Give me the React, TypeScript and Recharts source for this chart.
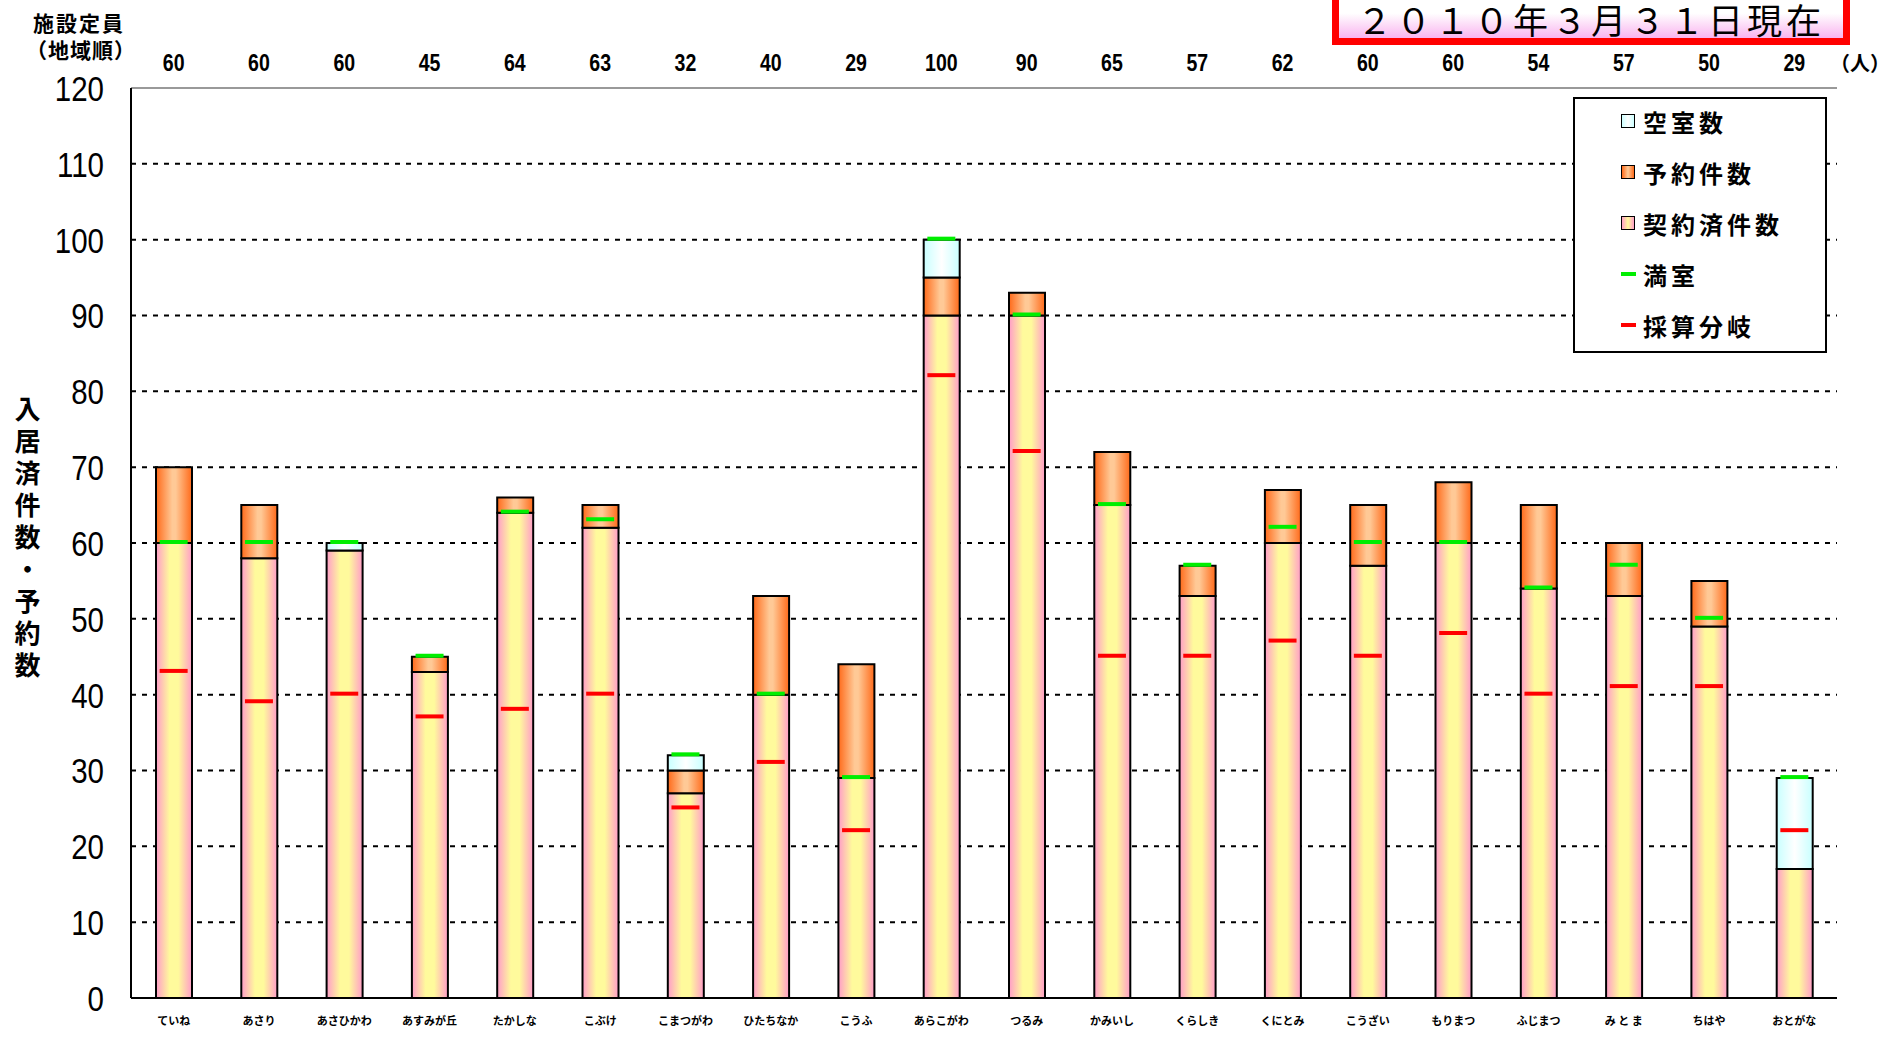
import React from "react"
import { ComposedChart, Bar, Line, XAxis, YAxis, CartesianGrid } from "recharts"

// 施設（地域順）
const facilities = [
  "ていね", "あさり", "あさひかわ", "あすみが丘", "たかしな", "こぶけ", "こまつがわ", "ひたちなか", "こうふ", "あらこがわ",
  "つるみ", "かみいし", "くらしき", "くにとみ", "こうざい", "もりまつ", "ふじまつ", "み と ま", "ちはや", "おとがな",
]
const capacity = [60, 60, 60, 45, 64, 63, 32, 40, 29, 100, 90, 65, 57, 62, 60, 60, 54, 57, 50, 29]
const contracted = [60, 58, 59, 43, 64, 62, 27, 40, 29, 90, 90, 65, 53, 60, 57, 60, 54, 53, 49, 17]
const reserved = [10, 7, 0, 2, 2, 3, 3, 13, 15, 5, 3, 7, 4, 7, 8, 8, 11, 7, 6, 0]
const vacant = [0, 0, 1, 0, 0, 0, 2, 0, 0, 5, 0, 0, 0, 0, 0, 0, 0, 0, 0, 12]
const fullRoom = [60, 60, 60, 45, 64, 63, 32, 40, 29, 100, 90, 65, 57, 62, 60, 60, 54, 57, 50, 29]
const breakEven = [43, 39, 40, 37, 38, 40, 25, 31, 22, 82, 72, 45, 45, 47, 45, 48, 40, 41, 41, 22]
const yTicks = [0, 10, 20, 30, 40, 50, 60, 70, 80, 90, 100, 110, 120]

const data = facilities.map((name, i) => ({
  name,
  contracted: contracted[i],
  reserved: reserved[i],
  vacant: vacant[i],
  full: fullRoom[i],
  breakEven: breakEven[i],
}))

const JP = "'Noto Sans CJK JP', 'Noto Sans', sans-serif"
const NUM = "'Liberation Sans', Arial, sans-serif"

const dash = (color: string) => (props: any) => {
  const { cx, cy, index } = props
  if (cx == null || cy == null) return <g key={`${color}-${index}`} />
  return <line key={`${color}-${index}`} x1={cx - 14} x2={cx + 14} y1={cy - 1} y2={cy - 1} stroke={color} strokeWidth={4} />
}

const YTick = ({ x, y, payload }: any) => (
  <text transform={`translate(${x},${y}) scale(0.82,1)`} dy="0.36em" textAnchor="end" fontSize={36} fontFamily={NUM} fill="#000">
    {payload.value}
  </text>
)

const BottomTick = ({ x, y, payload }: any) => (
  <text x={x} y={y} dy={19} textAnchor="middle" fontSize={11} fontWeight={700} fontFamily={JP} fill="#000">
    {payload.value}
  </text>
)

const TopTick = ({ x, y, index }: any) => (
  <text transform={`translate(${x},${y}) scale(0.85,1)`} dy={-9} textAnchor="middle" fontSize={23} fontWeight={700} fontFamily={NUM} fill="#000">
    {capacity[index]}
  </text>
)

const legendItems = [
  { label: "空室数", kind: "box", fill: "linear-gradient(to right, #ccffff, #ffffff, #ccffff)" },
  { label: "予約件数", kind: "box", fill: "linear-gradient(to right, #ff6a1a, #ffcc99, #ff6a1a)" },
  { label: "契約済件数", kind: "box", fill: "linear-gradient(to right, #ff9fc8, #fffa9c, #ff9fc8)" },
  { label: "満室", kind: "line", fill: "#00ee00" },
  { label: "採算分岐", kind: "line", fill: "#ff0000" },
]

export default function App() {
  return (
    <div style={{ position: "absolute", left: 0, top: 0, width: 1899, height: 1041, background: "#fff", fontFamily: JP, overflow: "hidden" }}>
      <ComposedChart width={1899} height={1041} data={data} margin={{ top: 58, right: 62, bottom: 13, left: 71 }}>
        <defs>
          <linearGradient id="gContract" x1="0" y1="0" x2="1" y2="0">
            <stop offset="0%" stopColor="#ff9cc8" />
            <stop offset="38%" stopColor="#fffa9c" />
            <stop offset="62%" stopColor="#fffa9c" />
            <stop offset="100%" stopColor="#ff9cc8" />
          </linearGradient>
          <linearGradient id="gReserve" x1="0" y1="0" x2="1" y2="0">
            <stop offset="0%" stopColor="#ff6a1a" />
            <stop offset="45%" stopColor="#ffc996" />
            <stop offset="55%" stopColor="#ffc996" />
            <stop offset="100%" stopColor="#ff6a1a" />
          </linearGradient>
          <linearGradient id="gVacant" x1="0" y1="0" x2="1" y2="0">
            <stop offset="0%" stopColor="#c8ffff" />
            <stop offset="50%" stopColor="#ffffff" />
            <stop offset="100%" stopColor="#c8ffff" />
          </linearGradient>
        </defs>
        <CartesianGrid vertical={false} stroke="#000" strokeWidth={2} strokeDasharray="5 6" />
        <XAxis dataKey="name" height={30} tick={<BottomTick />} tickLine={false} axisLine={{ stroke: "#000", strokeWidth: 2 }} interval={0} />
        <XAxis xAxisId="top" orientation="top" dataKey="name" height={30} tick={<TopTick />} tickLine={false} axisLine={{ stroke: "#999", strokeWidth: 2 }} interval={0} />
        <YAxis width={60} domain={[0, 120]} ticks={yTicks} tick={<YTick />} tickLine={false} tickMargin={21} axisLine={{ stroke: "#000", strokeWidth: 2 }} />
        <YAxis yAxisId="right" orientation="right" width={0} domain={[0, 120]} tick={false} tickLine={false} axisLine={{ stroke: "#999", strokeWidth: 2 }} />
        <Bar dataKey="contracted" stackId="a" barSize={36} fill="url(#gContract)" stroke="#000" strokeWidth={2} isAnimationActive={false} />
        <Bar dataKey="reserved" stackId="a" barSize={36} fill="url(#gReserve)" stroke="#000" strokeWidth={2} isAnimationActive={false} />
        <Bar dataKey="vacant" stackId="a" barSize={36} fill="url(#gVacant)" stroke="#000" strokeWidth={2} isAnimationActive={false} />
        <Line dataKey="full" stroke="none" dot={dash("#00ee00")} activeDot={false} isAnimationActive={false} />
        <Line dataKey="breakEven" stroke="none" dot={dash("#ff0000")} activeDot={false} isAnimationActive={false} />
      </ComposedChart>

      <div style={{ position: "absolute", left: 33, top: 9, fontSize: 21, fontWeight: 700, lineHeight: "26px", letterSpacing: 2 }}>施設定員</div>
      <div style={{ position: "absolute", left: 26, top: 36, fontSize: 21, fontWeight: 700, lineHeight: "26px", letterSpacing: 1 }}>（地域順）</div>
      <div style={{ position: "absolute", left: 1830, top: 50, fontSize: 20, fontWeight: 700, lineHeight: "26px" }}>（人）</div>

      <div
        style={{
          position: "absolute", left: 1332, top: 0, width: 518, height: 45, boxSizing: "border-box",
          borderLeft: "7px solid #ff0000", borderRight: "7px solid #ff0000", borderBottom: "7px solid #ff0000",
          background: "linear-gradient(to bottom, #ffffff 0%, #ffffff 35%, #f9b4ef 100%)",
          display: "flex", alignItems: "center", justifyContent: "center", overflow: "hidden",
        }}
      >
        <span style={{ fontSize: 35, lineHeight: "36px", letterSpacing: 4, color: "#000", whiteSpace: "nowrap" }}>２０１０年３月３１日現在</span>
      </div>

      <div
        style={{
          position: "absolute", left: 12, top: 396, width: 30, fontSize: 26, fontWeight: 700, lineHeight: "30px",
          writingMode: "vertical-rl", letterSpacing: 6, textOrientation: "upright",
        }}
      >
        入居済件数・予約数
      </div>

      <div style={{ position: "absolute", left: 1573, top: 97, width: 250, height: 252, border: "2px solid #000", background: "#fff" }}>
        {legendItems.map((it, i) => (
          <div key={it.label} style={{ position: "absolute", left: 46, top: 4 + i * 51, height: 36, display: "flex", alignItems: "center" }}>
            {it.kind === "box" ? (
              <div style={{ width: 12, height: 12, border: "1.5px solid #000", background: it.fill, marginRight: 8 }} />
            ) : (
              <div style={{ width: 15, height: 4, background: it.fill, marginRight: 7 }} />
            )}
            <span style={{ fontSize: 24, fontWeight: 700, letterSpacing: 4 }}>{it.label}</span>
          </div>
        ))}
      </div>
    </div>
  )
}
